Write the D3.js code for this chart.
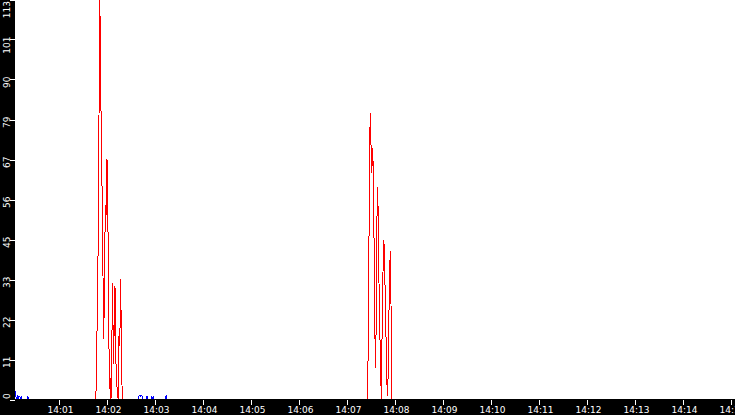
<!DOCTYPE html>
<html>
<head>
<meta charset="utf-8">
<script src="https://cdn.jsdelivr.net/npm/d3@7"></script>
<style>
  html, body { margin: 0; padding: 0; background: #fff; }
  svg { display: block; }
  text { font-family: "DejaVu Sans", Verdana, sans-serif; font-size: 9px; fill: #fff; }
</style>
</head>
<body>
<script>
// samples: [seconds after 14:00:00, value]
const redBurst1 = [
  [106, 0], [107, 9], [108, 29], [109, 44], [110, 80], [111, 113], [112, 96],
  [113, 68], [114, 58], [115, 35], [116, 17], [117, 39], [118, 55], [119, 52],
  [120, 68], [121, 55], [122, 26], [123, 3], [124, 6], [125, 0], [126, 15],
  [127, 33], [128, 10], [129, 20], [130, 32], [131, 12], [132, 5], [133, 2],
  [134, 0], [135, 18], [136, 15], [137, 34], [138, 17], [139, 0]
];
const redBurst2 = [
  [445, 0], [446, 5], [447, 27], [448, 63], [449, 81], [450, 72], [451, 64],
  [452, 71], [453, 64], [454, 40], [455, 17], [456, 9], [457, 43], [458, 60],
  [459, 53], [460, 33], [461, 20], [462, 8], [463, 0], [464, 22], [465, 36],
  [466, 45], [467, 41], [468, 24], [469, 16], [470, 4], [471, 1], [472, 19],
  [473, 31], [474, 42], [475, 27], [476, 0]
];
const blueSamples = [
  [5, 2.5], [6, 1], [7, 0.3], [8, 1.2], [9, 0], [10, 1], [11, 0.8], [12, 0],
  [13, 1], [14, 0], [20, 0], [21, 1], [22, 0],
  [159, 0], [160, 1], [161, 1.2], [162, 1], [163, 1.2], [164, 1], [165, 0],
  [169, 0], [170, 1], [171, 0], [175, 0], [176, 1], [177, 0], [178, 1], [179, 0],
  [193, 0], [194, 1.2], [195, 0], [905, 0]
];
const yMax = 113;
const yTickLabels = ['0', '11', '22', '33', '45', '56', '67', '79', '90', '101', '113'];
const startSec = 5, endSec = 905;

const width = 735, height = 415;
const left = 15, bottom = 399;

const base = new Date(2020, 0, 1, 14, 0, 0).getTime();
function toTime(s) { return new Date(base + s * 1000); }

const redSeries = [[startSec, 0]].concat(redBurst1, redBurst2, [[endSec, 0]]);

const svg = d3.select('body').append('svg')
    .attr('width', width).attr('height', height);

const x = d3.scaleTime()
    .domain([toTime(startSec), toTime(endSec)])
    .range([left, width]);
const y = d3.scaleLinear()
    .domain([0, yMax])
    .range([bottom + 0.5, -0.5]);

const line = d3.line()
    .x(function(d) { return x(toTime(d[0])); })
    .y(function(d) { return y(d[1]); });

svg.append('path')
    .datum(blueSamples)
    .attr('d', line)
    .attr('fill', 'none')
    .attr('stroke', '#0000ff')
    .attr('stroke-width', 1)
    .attr('shape-rendering', 'crispEdges');

svg.append('path')
    .datum(redSeries)
    .attr('d', line)
    .attr('fill', 'none')
    .attr('stroke', '#ff0000')
    .attr('stroke-width', 1)
    .attr('shape-rendering', 'crispEdges');

// black strips
svg.append('rect').attr('x', 0).attr('y', 0).attr('width', left).attr('height', height).attr('fill', '#000');
svg.append('rect').attr('x', 0).attr('y', bottom).attr('width', width).attr('height', height - bottom).attr('fill', '#000');

// x axis
const xAxis = d3.axisBottom(x)
    .ticks(d3.timeMinute.every(1))
    .tickFormat(d3.timeFormat('%H:%M'))
    .tickSize(5)
    .tickPadding(2);

const gx = svg.append('g')
    .attr('transform', 'translate(0,' + (bottom + 1) + ')')
    .call(xAxis);
gx.select('.domain').remove();
gx.selectAll('line').attr('stroke', '#fff');
gx.selectAll('text')
    .attr('fill', '#fff')
    .attr('dx', 1)
    .style('font-family', '"DejaVu Sans", Verdana, sans-serif')
    .style('font-size', '9px');

// y axis (rotated labels)
const yTicks = yTickLabels.map(function(l, i) { return yMax * i / 10; });
const gy = svg.append('g');
gy.selectAll('line').data(yTicks).enter().append('line')
    .attr('x1', left - 5).attr('x2', left)
    .attr('y1', function(d) { return Math.round(y(d)) + 0.5; })
    .attr('y2', function(d) { return Math.round(y(d)) + 0.5; })
    .attr('stroke', '#fff')
    .attr('shape-rendering', 'crispEdges');

gy.selectAll('text').data(yTicks).enter().append('text')
    .attr('transform', function(d, i) {
        let ty;
        if (i === 0) ty = bottom;
        else if (i === yTicks.length - 1) ty = 1;
        else ty = y(d) - 3;
        return 'translate(9.5,' + ty + ') rotate(-90)';
    })
    .attr('text-anchor', function(d, i) { return i === 0 ? 'start' : 'end'; })
    .text(function(d, i) { return yTickLabels[i]; });
</script>
</body>
</html>
